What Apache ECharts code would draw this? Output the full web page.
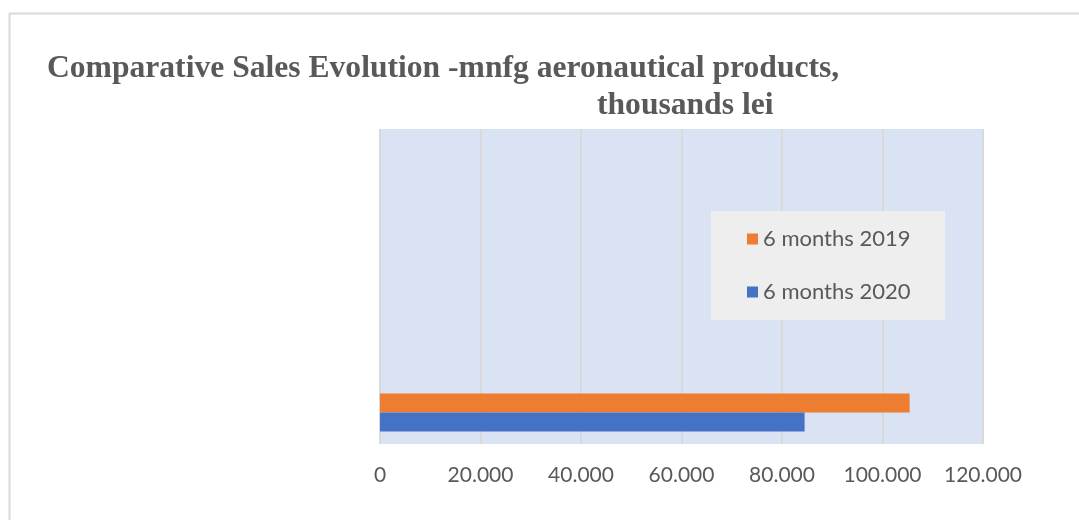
<!DOCTYPE html>
<html>
<head>
<meta charset="utf-8">
<script src="https://cdn.jsdelivr.net/npm/echarts@6/dist/echarts.min.js"></script>
<style>
  html, body { margin: 0; padding: 0; background: #ffffff; }
  #chart { width: 1079px; height: 520px; }
</style>
</head>
<body>
<div id="chart"></div>
<script>
// Category slots on the vertical axis (only the first one carries data)
const categories = ['mnfg aeronautical products', '', '', '', ''];
// Sales, thousands lei
const sales2019 = [105400, null, null, null, null];
const sales2020 = [84500, null, null, null, null];
const seriesNames = ['6 months 2019', '6 months 2020'];
const xTicks = [0, 20000, 40000, 60000, 80000, 100000, 120000];

function fmtThousands(v) {
  if (v === 0) return '0';
  return String(Math.round(v)).replace(/\B(?=(\d{3})+(?!\d))/g, '.');
}

const chart = echarts.init(document.getElementById('chart'), null, { renderer: 'canvas' });

const titleStyle = {
  fontFamily: 'Liberation Serif',
  fontWeight: 'bold',
  fontSize: 31.6,
  color: '#595959'
};

chart.setOption({
  backgroundColor: '#ffffff',
  animation: false,
  graphic: [
    {
      type: 'rect',
      shape: { x: 9.5, y: 13.5, width: 1200, height: 600 },
      style: { fill: 'none', stroke: '#d9d9d9', lineWidth: 2 },
      silent: true
    },
    {
      type: 'rect',
      shape: { x: 711, y: 211, width: 234, height: 109 },
      style: { fill: '#eeeeee' },
      z: 5,
      silent: true
    }
  ],
  title: [
    {
      text: 'Comparative Sales Evolution -mnfg aeronautical products,',
      left: 42,
      top: 48,
      textStyle: titleStyle
    },
    {
      text: 'thousands lei',
      left: 592,
      top: 85,
      textStyle: titleStyle
    }
  ],
  legend: {
    data: seriesNames,
    orient: 'vertical',
    left: 742,
    top: 222,
    z: 6,
    itemWidth: 11,
    itemHeight: 11,
    itemGap: 29,
    icon: 'rect',
    textStyle: {
      fontFamily: 'Lato',
      fontSize: 22,
      lineHeight: 24,
      color: '#595959'
    }
  },
  grid: {
    left: 380,
    right: 96,
    top: 129,
    bottom: 76,
    show: true,
    backgroundColor: '#dae3f3',
    borderWidth: 0,
    containLabel: false
  },
  xAxis: {
    type: 'value',
    min: xTicks[0],
    max: xTicks[xTicks.length - 1],
    interval: 20000,
    axisLine: { show: false },
    axisTick: { show: false },
    splitLine: { show: true, lineStyle: { color: '#d9d9d9', width: 2 } },
    axisLabel: {
      formatter: fmtThousands,
      fontFamily: 'Lato',
      fontSize: 21,
      color: '#595959',
      margin: 21
    }
  },
  yAxis: {
    type: 'category',
    data: categories,
    axisLine: { show: false },
    axisTick: { show: false },
    axisLabel: { show: false },
    splitLine: { show: false }
  },
  series: [
    {
      name: seriesNames[0],
      type: 'bar',
      data: sales2019,
      itemStyle: { color: '#ed7d31' },
      barGap: '0%',
      barCategoryGap: '40%'
    },
    {
      name: seriesNames[1],
      type: 'bar',
      data: sales2020,
      itemStyle: { color: '#4472c4' },
      barGap: '0%',
      barCategoryGap: '40%'
    }
  ]
});
</script>
</body>
</html>
